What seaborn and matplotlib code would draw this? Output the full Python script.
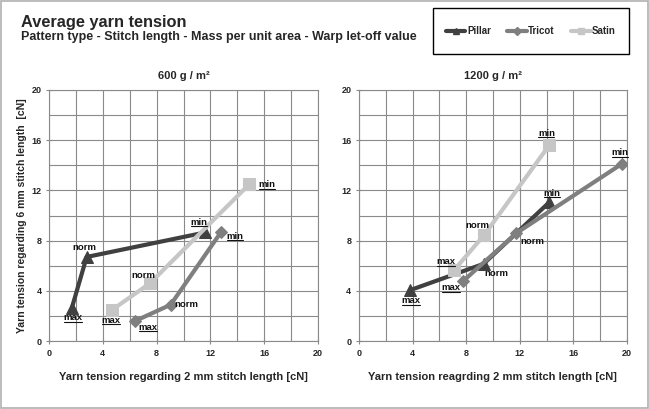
import numpy as np
import pandas as pd
import matplotlib
matplotlib.use('Agg')
import matplotlib.pyplot as plt
from matplotlib.lines import Line2D
from matplotlib.patches import Rectangle
import seaborn as sns

sns.set_style('white')
plt.rcParams['font.family'] = ['Liberation Sans', 'DejaVu Sans']
plt.rcParams['font.weight'] = 'bold'

# Data
patterns = ['Pillar', 'Tricot', 'Satin']
levels = ['max', 'norm', 'min']

x_600 = {'Pillar': [1.7, 2.8, 11.6], 'Tricot': [6.4, 9.05, 12.8], 'Satin': [4.7, 7.5, 14.9]}
y_600 = {'Pillar': [2.65, 6.7, 8.65], 'Tricot': [1.6, 2.9, 8.7], 'Satin': [2.5, 4.6, 12.5]}
x_1200 = {'Pillar': [3.8, 9.3, 14.2], 'Tricot': [7.8, 11.75, 19.6], 'Satin': [7.1, 9.35, 14.2]}
y_1200 = {'Pillar': [4.05, 6.15, 11.05], 'Tricot': [4.8, 8.6, 14.1], 'Satin': [5.65, 8.45, 15.6]}

colors = {'Pillar': '#404040', 'Tricot': '#7f7f7f', 'Satin': '#c6c6c6'}
markers = {'Pillar': '^', 'Tricot': 'D', 'Satin': 's'}
msizes = {'Pillar': 8, 'Tricot': 6, 'Satin': 8}

# label offsets (points) for max / norm / min
offs_600 = {'Pillar': [(0.5, -7), (-2, 7), (-4.5, 7.5)],
            'Tricot': [(9.5, -4.5), (11, 0), (10, -3)],
            'Satin': [(-0.7, -7.5), (-5, 5.5), (12.5, -0.5)]}
offs_1200 = {'Pillar': [(0.5, -7.5), (9, -7), (2, 6.5)],
             'Tricot': [(-9, -5), (11.5, -6), (-1.2, 8)],
             'Satin': [(-6, 6), (-5, 6.5), (-2, 8.5)]}


def make_df(xd, yd):
    rows = []
    for p in patterns:
        for lv, xv, yv in zip(levels, xd[p], yd[p]):
            rows.append({'pattern': p, 'level': lv, 'x': xv, 'y': yv})
    return pd.DataFrame(rows)


fig = plt.figure(figsize=(6.49, 4.09), dpi=100)
ax1 = fig.add_axes([0.0755, 0.166, 0.4145, 0.614])
ax2 = fig.add_axes([0.553, 0.166, 0.413, 0.614])

panels = [(ax1, make_df(x_600, y_600), offs_600, '600 g / m²',
           'Yarn tension regarding 2 mm stitch length [cN]'),
          (ax2, make_df(x_1200, y_1200), offs_1200, '1200 g / m²',
           'Yarn tension reagrding 2 mm stitch length [cN]')]

underlined = []
for ax, df, offs, ttl, xl in panels:
    for p in patterns:
        sub = df[df['pattern'] == p]
        sns.lineplot(data=sub, x='x', y='y', ax=ax, sort=False, color=colors[p],
                     lw=3, marker=markers[p], markersize=msizes[p],
                     markeredgecolor=colors[p], legend=False, zorder=3)
        for i, row in enumerate(sub.itertuples()):
            t = ax.annotate(row.level, (row.x, row.y), xytext=offs[p][i],
                            textcoords='offset points', ha='center', va='center',
                            fontsize=6.8, fontweight='bold', color='#111111', zorder=4)
            if row.level != 'norm':
                underlined.append(t)
    ax.set_xlim(0, 20)
    ax.set_ylim(0, 20)
    ax.set_xticks(np.arange(0, 21, 4))
    ax.set_yticks(np.arange(0, 21, 4))
    ax.set_xticks(np.arange(0, 21, 2), minor=True)
    ax.set_yticks(np.arange(0, 21, 2), minor=True)
    ax.grid(True, which='both', color='#8a8a8a', lw=0.8)
    ax.set_axisbelow(True)
    for s in ax.spines.values():
        s.set_color('#8a8a8a')
        s.set_linewidth(0.8)
    ax.tick_params(which='major', direction='inout', length=4, width=0.8,
                   color='#8a8a8a', labelsize=6.5, pad=3.5,
                   bottom=True, left=True)
    ax.tick_params(which='minor', length=0)
    for lab in ax.get_xticklabels() + ax.get_yticklabels():
        lab.set_fontweight('bold')
    ax.set_title(ttl, fontsize=8, fontweight='bold', pad=8)
    ax.set_xlabel(xl, fontsize=8, fontweight='bold', labelpad=10)
    ax.set_ylabel('')

ax1.set_ylabel('Yarn tension regarding 6 mm stitch length  [cN]', fontsize=7.5,
               fontweight='bold', labelpad=3)

fig.text(0.033, 0.935, 'Average yarn tension', fontsize=11.8, fontweight='bold',
         va='baseline')
fig.text(0.033, 0.902, 'Pattern type - Stitch length - Mass per unit area - Warp let-off value',
         fontsize=9, fontweight='bold', va='baseline')

# legend box
fig.patches.append(Rectangle((433 / 649, 1 - 54 / 409), 196 / 649, 46 / 409,
                             transform=fig.transFigure, fill=False,
                             edgecolor='black', lw=1.0))
handles = [Line2D([0], [0], color=colors[p], lw=3, marker=markers[p],
                  markersize=4) for p in patterns]
fig.legend(handles, patterns, loc='center', bbox_to_anchor=(531 / 649, 1 - 31 / 409),
           ncol=3, frameon=False, handlelength=2.0, handletextpad=0.15,
           columnspacing=1.7, prop={'weight': 'bold', 'size': 7})

fig.patches.append(Rectangle((0.002, 0.003), 0.996, 0.994, transform=fig.transFigure,
                             fill=False, edgecolor='#b0b0b0', lw=1.2))

# underline max / min labels
fig.canvas.draw()
r = fig.canvas.get_renderer()
inv = fig.transFigure.inverted()
for t in underlined:
    bb = t.get_window_extent(r)
    (x0, y0), (x1, _) = inv.transform([(bb.x0 + 0.5, bb.y0 + 0.5), (bb.x1 - 0.5, bb.y0)])
    fig.lines.append(Line2D([x0, x1], [y0, y0], transform=fig.transFigure,
                            color='#111111', lw=0.8))

fig.savefig('out.png', dpi=100)
